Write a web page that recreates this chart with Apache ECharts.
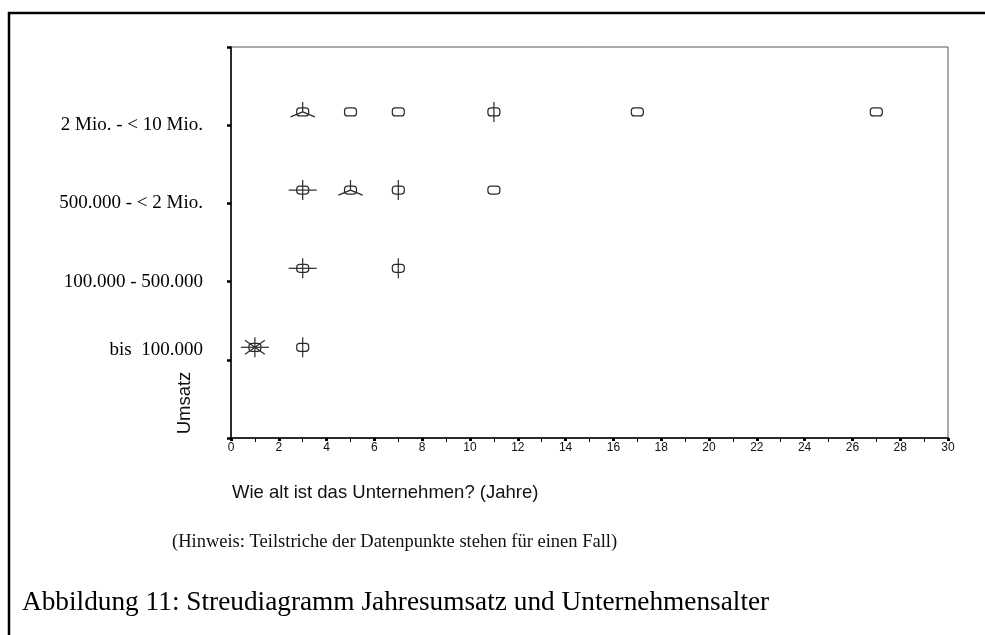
<!DOCTYPE html>
<html>
<head>
    <meta charset="UTF-8">
    <title>Streudiagramm Jahresumsatz und Unternehmensalter</title>
    <style>
        html, body { margin: 0; padding: 0; background: #fff; }
        #main { width: 985px; height: 635px; }
    </style>
</head>
<body>
<div id="main"></div>
<script src="https://cdn.jsdelivr.net/npm/echarts@6/dist/echarts.min.js"></script>
<script type="text/javascript">
    // Umsatzklassen (y-Achse, Teilstriche bei 1..4)
    var umsatzKlassen = ['bis  100.000', '100.000 - 500.000', '500.000 - < 2 Mio.', '2 Mio. - < 10 Mio.'];
    // y-Lage der Punkte je Klasse (im Original leicht über dem Teilstrich)
    var klassenY = [1.16, 2.17, 3.17, 4.17];
    // Alter in Jahren je Klasse
    var alter = [
        [1, 3],
        [3, 7],
        [3, 5, 7, 11],
        [3, 5, 7, 11, 17, 27]
    ];
    // Anzahl Fälle (Blütenblätter) je Punkt
    var faelle = [
        [8, 2],
        [4, 2],
        [4, 3, 2, 1],
        [3, 1, 1, 2, 1, 1]
    ];
    var xTicks = [0, 30, 2];

    var punkte = [];
    for (var k = 0; k < alter.length; k++) {
        for (var j = 0; j < alter[k].length; j++) {
            punkte.push([alter[k][j], klassenY[k], faelle[k][j]]);
        }
    }

    // Sonnenblume: Ellipse + ein Strich je Fall (ab 2 Fällen)
    function renderSunflower(params, api) {
        var c = api.coord([api.value(0), api.value(1)]);
        var n = api.value(2);
        var col = '#2a2a2a';
        var children = [{
            type: 'rect',
            shape: { x: c[0] - 6, y: c[1] - 4, width: 12, height: 8, r: 3 },
            style: { fill: 'none', stroke: col, lineWidth: 1.2 }
        }];
        if (n > 1) {
            for (var i = 0; i < n; i++) {
                var a = 2 * Math.PI * i / n;
                children.push({
                    type: 'line',
                    shape: { x1: c[0], y1: c[1], x2: c[0] + 14 * Math.sin(a), y2: c[1] - 10 * Math.cos(a) },
                    style: { stroke: col, lineWidth: 1.2 }
                });
            }
        }
        return { type: 'group', children: children };
    }

    var myChart = echarts.init(document.getElementById('main'), null, { renderer: 'canvas' });
    var option = {
        backgroundColor: '#fff',
        animation: false,
        grid: {
            left: 231, right: 37, top: 47, bottom: 197,
            show: true, borderColor: '#555', borderWidth: 1
        },
        xAxis: {
            type: 'value',
            min: xTicks[0], max: xTicks[1], interval: xTicks[2],
            axisLine: { show: true, onZero: false, lineStyle: { color: '#000', width: 1.5 } },
            axisTick: { show: true, length: 3, lineStyle: { color: '#000', width: 3 } },
            minorTick: { show: true, splitNumber: 2, length: 4, lineStyle: { color: '#000', width: 1 } },
            axisLabel: { margin: 4, color: '#111', fontSize: 12, fontFamily: 'Liberation Sans Narrow, Liberation Sans, Arial' },
            splitLine: { show: false }
        },
        yAxis: {
            type: 'value',
            min: 0, max: 5, interval: 1,
            axisLine: { show: true, onZero: false, lineStyle: { color: '#000', width: 1.5 } },
            axisTick: { show: true, length: 4, lineStyle: { color: '#000', width: 2.5 } },
            axisLabel: {
                margin: 28,
                color: '#000',
                fontSize: 19,
                fontFamily: 'Liberation Serif, Times New Roman',
                formatter: function (v) {
                    var i = Math.round(v) - 1;
                    if (i < 0 || i >= umsatzKlassen.length) return '';
                    return i === 0 ? '{b|' + umsatzKlassen[i] + '}' : umsatzKlassen[i];
                },
                rich: { b: { fontSize: 19, fontFamily: 'Liberation Serif', color: '#000', padding: [0, 0, 20, 0] } }
            },
            splitLine: { show: false }
        },
        graphic: [
            {
                type: 'polyline',
                shape: { points: [[9, 635], [9, 13], [985, 13]] },
                style: { stroke: '#000', lineWidth: 2.5, fill: 'none' }
            },
            {
                type: 'text', x: 185, y: 403, rotation: Math.PI / 2,
                style: { text: 'Umsatz', fontSize: 18.5, fontFamily: 'Liberation Sans', fill: '#111', align: 'center', verticalAlign: 'middle' }
            },
            {
                type: 'text', x: 232, y: 493,
                style: { text: 'Wie alt ist das Unternehmen? (Jahre)', fontSize: 18.5, fontFamily: 'Liberation Sans', fill: '#111', align: 'left', verticalAlign: 'middle' }
            },
            {
                type: 'text', x: 172, y: 542,
                style: { text: '(Hinweis: Teilstriche der Datenpunkte stehen für einen Fall)', fontSize: 18.5, fontFamily: 'Liberation Serif', fill: '#111', align: 'left', verticalAlign: 'middle' }
            },
            {
                type: 'text', x: 22, y: 603,
                style: { text: 'Abbildung 11: Streudiagramm Jahresumsatz und Unternehmensalter', fontSize: 27.3, fontFamily: 'Liberation Serif', fill: '#000', align: 'left', verticalAlign: 'middle' }
            }
        ],
        series: [{
            type: 'custom',
            renderItem: renderSunflower,
            encode: { x: 0, y: 1 },
            data: punkte
        }]
    };
    myChart.setOption(option);
</script>
</body>
</html>
